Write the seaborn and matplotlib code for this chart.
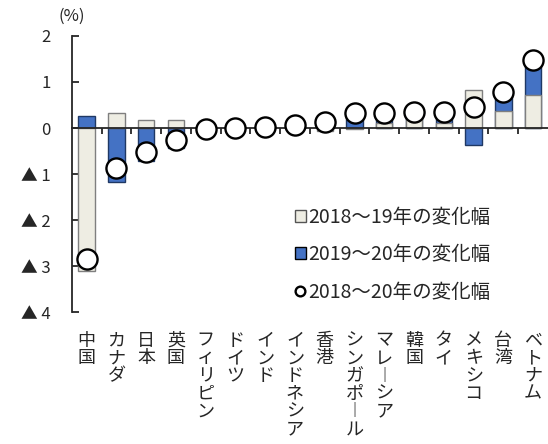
import matplotlib
matplotlib.use("Agg")
import matplotlib.pyplot as plt
from matplotlib.patches import Patch
from matplotlib.lines import Line2D
import numpy as np
import pandas as pd
import seaborn as sns

countries = ["中国", "カナダ", "日本", "英国", "フィリピン", "ドイツ", "インド", "インドネシア",
             "香港", "シンガポール", "マレーシア", "韓国", "タイ", "メキシコ", "台湾", "ベトナム"]
chg_18_19 = [-3.10, 0.32, 0.18, 0.18, 0.03, 0.05, -0.05, 0.03,
             -0.06, -0.03, 0.10, 0.30, 0.10, 0.82, 0.37, 0.72]
chg_19_20 = [0.26, -1.18, -0.72, -0.44, -0.05, -0.04, 0.07, 0.03,
             0.20, 0.35, 0.22, 0.05, 0.25, -0.37, 0.41, 0.75]
chg_18_20 = [-2.85, -0.87, -0.53, -0.26, -0.02, 0.01, 0.02, 0.06,
             0.14, 0.32, 0.32, 0.35, 0.35, 0.45, 0.78, 1.47]
yticks = [2, 1, 0, -1, -2, -3, -4]
ytick_labels = ["2", "1", "0", "▲ 1", "▲ 2", "▲ 3", "▲ 4"]
legend_labels = ["2018～19年の変化幅", "2019～20年の変化幅", "2018～20年の変化幅"]

BEIGE = "#EEEDE3"
BLUE = "#4472C4"


def vertical(name):
    return "\n".join("︱" if c == "ー" else c for c in name)


def main():
    sns.set_style("white")
    plt.rcParams["font.family"] = ["Noto Sans CJK JP", "DejaVu Sans"]

    df = pd.DataFrame({"country": countries, "a": chg_18_19, "b": chg_19_20, "total": chg_18_20})
    # blue is stacked on beige when both have the same sign
    same = np.sign(df["a"]) == np.sign(df["b"])
    df["blue_top"] = df["b"] + np.where(same, df["a"], 0)
    df["pos"] = np.arange(len(df))

    fig = plt.figure(figsize=(5.48, 4.44), dpi=100)
    ax = fig.add_axes([0.131, 0.297, 0.869, 0.622])

    sns.barplot(data=df, x="pos", y="blue_top", color=BLUE, saturation=1, width=0.55,
                edgecolor="#1F3864", linewidth=1.0, ax=ax, zorder=2)
    sns.barplot(data=df, x="pos", y="a", color=BEIGE, saturation=1, width=0.55,
                edgecolor="#7F7F7F", linewidth=1.0, ax=ax, zorder=3)
    sns.scatterplot(data=df, x="pos", y="total", s=210, color="white", edgecolor="black",
                    linewidth=1.7, ax=ax, zorder=5, legend=False)

    ax.set_xlim(-0.5, len(df) - 0.5)
    ax.set_ylim(-4, 2)
    ax.set_xlabel("")
    ax.set_ylabel("")

    ax.spines["top"].set_visible(False)
    ax.spines["right"].set_visible(False)
    ax.spines["left"].set_linewidth(1.3)
    ax.spines["bottom"].set_position(("data", 0))
    ax.spines["bottom"].set_linewidth(1.3)
    ax.spines["bottom"].set_zorder(4)

    ax.set_yticks(yticks)
    ax.set_yticklabels(ytick_labels, fontsize=12)
    ax.tick_params(axis="y", direction="in", length=5, width=1.3, left=True, pad=15)

    ax.set_xticks(np.arange(len(df)))
    ax.set_xticklabels([])
    ax.tick_params(axis="x", which="major", length=0)
    ax.set_xticks(np.arange(len(df) - 1) + 0.5, minor=True)
    ax.tick_params(axis="x", which="minor", direction="out", length=4, width=1.3, bottom=True)

    sec = ax.secondary_xaxis(0.0)
    sec.set_xticks(np.arange(len(df)))
    sec.set_xticklabels([vertical(c) for c in countries], fontsize=13, va="top", linespacing=0.98)
    sec.tick_params(length=0, pad=14)
    sec.spines["bottom"].set_visible(False)

    fig.text(0.131, 0.963, "(%)", ha="center", va="center", fontsize=12)

    handles = [
        Patch(facecolor=BEIGE, edgecolor="#555555", linewidth=1.0),
        Patch(facecolor=BLUE, edgecolor="black", linewidth=1.0),
        Line2D([], [], marker="o", linestyle="none", markersize=7, markerfacecolor="white",
               markeredgecolor="black", markeredgewidth=1.7),
    ]
    ax.legend(handles, legend_labels, loc="upper left", bbox_to_anchor=(0.452, 0.41),
              frameon=False, fontsize=14, handlelength=0.55, handleheight=0.55,
              handletextpad=0.12, labelspacing=0.85, borderaxespad=0)

    fig.savefig("out.png", dpi=100)


if __name__ == "__main__":
    main()
